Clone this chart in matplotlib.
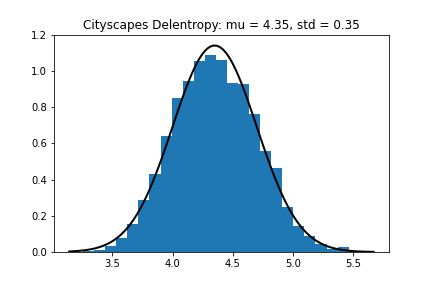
import numpy as np
import matplotlib
matplotlib.use("Agg")
import matplotlib.pyplot as plt

# fitted normal parameters shown in the title
mu = 4.35
std = 0.35

# histogram: 25 bins between data min and max, density heights
data_min = 3.256
data_max = 5.556
n_bins = 25
heights = [0.004, 0.011, 0.031, 0.080, 0.157, 0.289, 0.433, 0.639, 0.850,
           0.944, 1.052, 1.085, 1.061, 0.935, 0.928, 0.761, 0.556, 0.461,
           0.250, 0.144, 0.090, 0.042, 0.015, 0.028, 0.004]

edges = np.linspace(data_min, data_max, n_bins + 1)

fig = plt.figure(figsize=(6, 4), dpi=72)
plt.subplots_adjust(bottom=0.125)
plt.hist(edges[:-1], bins=edges, weights=heights)

# pdf of the fitted normal over the current x range
xmin, xmax = plt.xlim()
x = np.linspace(xmin, xmax, 100)
p = np.exp(-0.5 * ((x - mu) / std) ** 2) / (std * np.sqrt(2 * np.pi))
plt.plot(x, p, 'k', linewidth=2)
plt.ylim(0, 1.2)

plt.title("Cityscapes Delentropy: mu = %.2f, std = %.2f" % (mu, std))
plt.savefig("out.png")
